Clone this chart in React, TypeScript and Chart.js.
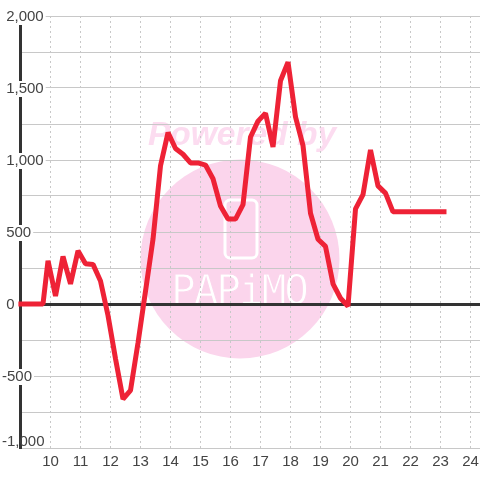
import React, { useEffect, useRef } from "react";
import { Chart, registerables } from "chart.js";

Chart.register(...registerables);

const hours = [
  8.93, 9.75, 9.917, 10.167, 10.417, 10.667, 10.917, 11.167, 11.417, 11.667, 11.917, 12.167, 12.417, 12.667, 12.917,
  13.167, 13.417, 13.667, 13.917, 14.167, 14.417, 14.667, 14.917, 15.167, 15.417, 15.667, 15.917, 16.167, 16.417,
  16.667, 16.917, 17.167, 17.417, 17.667, 17.917, 18.167, 18.417, 18.667, 18.917, 19.167, 19.417, 19.667, 19.917,
  20.167, 20.417, 20.667, 20.917, 21.167, 21.417, 21.667, 21.917, 22.167, 22.417, 22.667, 22.917, 23.2,
];
const values = [
  0, 0, 300, 55, 330, 140, 370, 280, 275, 160, -80, -380, -660, -600, -270,
  90, 450, 960, 1190, 1080, 1040, 980, 980, 965, 870, 680, 590, 590, 690,
  1160, 1270, 1325, 1090, 1550, 1680, 1300, 1100, 630, 450, 400, 140, 40, -15,
  660, 760, 1070, 820, 770, 640, 640, 640, 640, 640, 640, 640, 640,
];
const yMin = -1000;
const yMax = 2000;
const xMin = 9;
const xMax = 24.317;
const positivePad = "\u00a0";
const bottomLabel = "-1,000";
const bottomLabelLift = 7;
const watermarkTop = "Powered by";
const watermarkBottom = "PAPiMO";

const watermark = {
  id: "watermark",
  beforeDraw(chart: any) {
    const items = chart.scales.y.getLabelItems();
    for (const item of items) {
      if (item.label === bottomLabel && !item.lifted) {
        item.lifted = true;
        item.options.translation[1] -= bottomLabelLift;
        if (item.options.backdrop) {
          item.options.backdrop.top = 436;
          item.options.backdrop.height = 16;
        }
      }
    }
    const c = chart.ctx;
    c.save();
    c.fillStyle = "#ffffff";
    c.fillRect(0, 0, 480, 480);
    c.fillStyle = "#fbd5ec";
    c.beginPath();
    c.arc(240, 259, 99.5, 0, Math.PI * 2);
    c.fill();
    c.fillStyle = "#fcdcf0";
    c.font = "italic bold 33.5px 'Liberation Sans'";
    c.textAlign = "center";
    c.textBaseline = "alphabetic";
    c.fillText(watermarkTop, 242, 145);
    c.strokeStyle = "#ffffff";
    c.lineWidth = 3;
    c.beginPath();
    c.roundRect(225, 200, 32, 58, 5);
    c.stroke();
    c.fillStyle = "#ffffff";
    c.font = "41px 'DejaVu Sans Mono'";
    (c as any).letterSpacing = "-2px";
    c.fillText(watermarkBottom, 239, 304);
    c.strokeStyle = "#fbd5ec";
    c.lineWidth = 1;
    c.strokeText(watermarkBottom, 239, 304);
    c.restore();
  },
};

export default function App() {
  const ref = useRef<HTMLCanvasElement>(null);
  useEffect(() => {
    document.body.style.margin = "0";
    const chart = new Chart(ref.current!, {
      type: "line",
      plugins: [watermark],
      data: {
        datasets: [
          {
            data: hours.map((h, i) => ({ x: h, y: values[i] })),
            borderColor: "#ee2236",
            borderWidth: 5,
            borderJoinStyle: "bevel",
            pointRadius: 0,
            tension: 0,
            clip: false,
          },
        ],
      },
      options: {
        animation: false,
        responsive: false,
        layout: { padding: { top: 16, left: 2, right: 0, bottom: 0 } },
        plugins: { legend: { display: false }, tooltip: { enabled: false } },
        scales: {
          x: {
            type: "linear",
            min: xMin,
            max: xMax,
            afterFit: (s: any) => {
              s.height = 32;
              s.paddingLeft = 0;
              s.paddingRight = 0;
            },
            border: { display: false, dash: [2, 3] },
            grid: {
              color: "#c8c8c8",
              lineWidth: 1,
              drawTicks: false,
            },
            ticks: {
              stepSize: 1,
              includeBounds: false,
              autoSkip: false,
              maxRotation: 0,
              padding: 5,
              color: "#444444",
              font: { family: "'Liberation Sans'", size: 15 },
              callback: (v: any) => (v >= 10 ? String(v) : ""),
            },
          },
          y: {
            type: "linear",
            min: yMin,
            max: yMax,
            afterFit: (s: any) => {
              s.width = 18.5;
            },
            border: { display: true, color: "#333333", width: 3 },
            grid: {
              color: (ctx: any) => (ctx.tick && ctx.tick.value === 0 ? "#333333" : "#c8c8c8"),
              lineWidth: (ctx: any) => (ctx.tick && ctx.tick.value === 0 ? 3 : 1),
              drawTicks: false,
            },
            ticks: {
              stepSize: 250,
              autoSkip: false,
              mirror: true,
              padding: -18.5,
              labelOffset: 1,
              color: "#444444",
              showLabelBackdrop: true,
              backdropColor: "#ffffff",
              backdropPadding: { left: 0, right: 2, top: 0, bottom: 0 },
              font: { family: "'Liberation Sans'", size: 15, lineHeight: "16px" },
              callback: (v: any) => {
                if (v % 500 !== 0) return "";
                const s = Number(v).toLocaleString("en-US");
                return v < 0 ? s : positivePad + s;
              },
            },
          },
        },
      } as any,
    });
    return () => chart.destroy();
  }, []);
  return <canvas ref={ref} width={480} height={480} style={{ display: "block" }} />;
}
